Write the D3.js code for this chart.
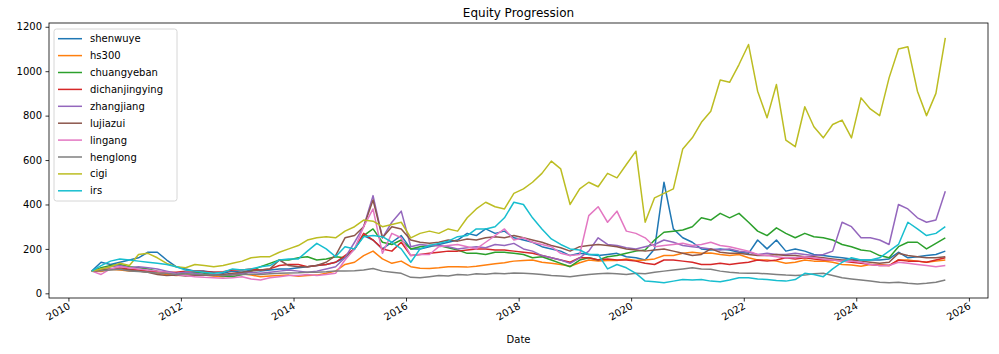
<!DOCTYPE html>
<html>
<head>
<meta charset="utf-8">
<script src="https://cdn.jsdelivr.net/npm/d3@7"></script>
<style>
  body { margin: 0; background: #fff; }
  text { font-family: "DejaVu Sans", sans-serif; }
</style>
</head>
<body>
<div id="viz"></div>
<script>

const seriesNames = ['shenwuye', 'hs300', 'chuangyeban', 'dichanjingying', 'zhangjiang',
                     'lujiazui', 'lingang', 'henglong', 'cigi', 'irs'];

const startMonth = new Date(2010, 5, 1);
const endMonth = new Date(2025, 8, 1);   // exclusive

const shenwuye = [100,140,130,140,150,160,185,185,150,120,
                  110,100,100,95,90,100,95,105,100,105,
                  110,110,115,120,125,130,140,160,200,260,
                  240,200,230,260,200,200,210,220,230,240,
                  270,260,290,270,280,250,240,230,210,200,
                  190,170,180,175,170,175,180,165,160,150,
                  200,500,290,250,230,200,195,200,195,185,
                  180,240,200,240,190,200,190,175,170,165,
                  160,155,150,150,150,155,185,160,165,170,
                  175,190];

const hs300 = [100,98,108,105,100,100,97,92,85,80,
               82,85,83,78,75,85,88,82,75,78,
               80,82,77,80,82,90,100,130,140,170,
               190,155,135,145,120,113,112,115,120,120,
               118,122,128,133,138,145,148,150,140,135,
               130,122,138,150,145,148,148,155,148,150,
               155,170,170,180,185,180,182,175,170,175,
               160,150,150,145,135,140,150,145,145,140,
               130,128,122,130,130,125,150,150,145,140,
               145,150];

const chuangyeban = [100,115,125,130,120,115,110,100,95,85,
                     90,95,90,85,78,75,85,100,120,135,
                     150,150,160,165,150,155,165,160,200,260,
                     290,230,220,240,200,210,215,215,205,195,
                     180,180,175,185,185,180,175,160,165,150,
                     135,120,150,160,150,165,170,180,190,195,
                     240,275,280,285,300,340,330,360,340,360,
                     320,280,260,295,270,250,270,255,250,240,
                     220,210,195,190,170,160,210,230,230,200,
                     225,250];

const dichanjingying = [100,105,110,115,108,105,100,98,95,95,
                        100,100,98,95,97,105,105,110,105,110,
                        125,130,130,120,125,130,140,170,200,270,
                        240,200,190,230,170,175,180,185,190,190,
                        195,200,200,195,195,190,185,180,170,160,
                        150,140,160,160,150,155,150,150,145,135,
                        130,150,150,145,140,130,130,135,130,135,
                        140,150,145,150,160,155,160,155,150,150,
                        145,140,135,130,125,125,150,145,145,140,
                        150,160];

const zhangjiang = [100,110,120,125,115,120,115,110,100,90,
                    95,90,85,85,80,85,90,95,90,95,
                    100,105,100,95,100,110,120,160,230,300,
                    440,250,320,370,210,220,215,215,210,200,
                    205,210,205,220,215,225,200,190,170,160,
                    150,135,160,190,250,220,215,205,200,210,
                    220,240,230,215,210,205,200,195,200,190,
                    185,175,180,175,175,180,175,170,175,190,
                    320,300,250,250,240,220,400,380,340,320,
                    330,460];

const lujiazui = [100,105,108,110,105,100,95,85,80,82,
                  78,80,82,80,85,90,95,100,105,110,
                  150,125,120,120,125,140,170,250,260,300,
                  420,250,300,290,240,230,225,230,240,235,
                  245,240,250,255,250,260,250,240,230,215,
                  205,190,210,215,220,215,210,200,195,190,
                  195,200,190,180,170,175,200,185,180,180,
                  175,170,170,175,170,170,165,165,160,155,
                  150,150,145,140,135,140,180,170,165,160,
                  160,165];

const lingang = [100,85,110,120,115,110,105,100,95,85,
                 80,75,72,70,68,70,75,65,60,70,
                 75,80,80,85,80,85,90,150,200,300,
                 380,180,270,250,170,175,175,210,215,220,
                 210,200,230,260,290,240,250,230,220,210,
                 180,170,175,350,390,320,370,280,270,250,
                 210,215,220,225,215,220,230,215,210,200,
                 190,175,170,165,160,160,165,160,155,150,
                 145,145,140,130,125,125,140,135,130,125,
                 120,125];

const henglong = [100,102,105,108,100,98,95,92,90,85,
                  88,85,84,82,80,82,85,86,85,88,
                  90,92,93,95,95,97,100,100,102,105,
                  112,100,95,90,72,70,75,80,78,85,
                  82,88,86,90,88,92,90,88,85,80,
                  78,75,80,85,88,90,88,85,90,88,
                  95,100,105,110,115,110,108,100,95,92,
                  90,90,88,85,82,80,82,88,90,80,
                  70,65,60,55,50,48,50,45,42,45,
                  50,60];

const cigi = [100,110,120,135,125,175,180,160,135,120,
              115,130,125,120,125,135,145,160,165,165,
              185,200,215,240,250,255,250,280,300,330,
              325,300,310,320,250,270,280,270,290,280,
              340,380,410,390,380,450,470,500,540,595,
              560,400,470,500,480,540,520,580,640,320,
              430,450,470,650,700,770,820,960,950,1030,
              1120,910,790,940,690,660,840,750,700,760,
              780,700,880,830,800,970,1100,1110,910,800,
              900,1150];

const irs = [100,125,145,155,150,145,140,135,130,120,
             105,100,95,90,95,110,105,110,120,125,
             150,155,155,190,225,200,165,210,200,255,
             260,255,230,200,140,200,215,225,235,255,
             260,290,290,300,340,410,400,340,290,245,
             220,200,195,175,175,110,130,115,90,55,
             52,48,55,62,60,62,55,52,60,70,
             70,65,62,58,55,62,90,85,75,110,
             140,160,150,150,160,190,220,320,290,260,
             270,300];

const yTicks = [0, 200, 400, 600, 800, 1000, 1200];
const xTickYears = [2010, 2012, 2014, 2016, 2018, 2020, 2022, 2024, 2026];

const colors = ['#1f77b4', '#ff7f0e', '#2ca02c', '#d62728', '#9467bd',
                '#8c564b', '#e377c2', '#7f7f7f', '#bcbd22', '#17becf'];

const allSeries = [shenwuye, hs300, chuangyeban, dichanjingying, zhangjiang,
                   lujiazui, lingang, henglong, cigi, irs];

// every other month starting from the first one
const dates = d3.timeMonth.range(startMonth, endMonth, 2);

const dimensions = {
    width: 999,
    height: 354,
    margins: { left: 49, right: 11, top: 23, bottom: 56 }
};
dimensions.boundedWidth = dimensions.width - dimensions.margins.left - dimensions.margins.right;
dimensions.boundedHeight = dimensions.height - dimensions.margins.top - dimensions.margins.bottom;

const svg = d3.select('#viz').append('svg')
    .attr('width', dimensions.width)
    .attr('height', dimensions.height);

const bounds = svg.append('g')
    .attr('transform', `translate(${dimensions.margins.left},${dimensions.margins.top})`);

// matplotlib style 5% padding on the time axis
const t0 = dates[0].getTime(), t1 = dates[dates.length - 1].getTime();
const pad = (t1 - t0) * 0.05;

const xScale = d3.scaleTime()
    .domain([new Date(t0 - pad), new Date(t1 + pad)])
    .range([0, dimensions.boundedWidth]);

const yScale = d3.scaleLinear()
    .domain([-21, 1217])
    .range([dimensions.boundedHeight, 0]);

const line = d3.line()
    .x((d, i) => xScale(dates[i]))
    .y(d => yScale(d));

allSeries.forEach((s, k) => {
    bounds.append('path')
        .datum(s)
        .attr('d', line)
        .attr('fill', 'none')
        .attr('stroke', colors[k])
        .attr('stroke-width', 1.5)
        .attr('stroke-linejoin', 'round');
});

// frame
bounds.append('rect')
    .attr('width', dimensions.boundedWidth)
    .attr('height', dimensions.boundedHeight)
    .attr('fill', 'none')
    .attr('stroke', '#000')
    .attr('stroke-width', 0.8);

const yAxis = bounds.append('g')
    .call(d3.axisLeft(yScale).tickValues(yTicks).tickFormat(d3.format('d'))
        .tickSize(3.5).tickPadding(3.5));
yAxis.select('.domain').remove();
yAxis.selectAll('text').attr('font-size', 10).attr('fill', '#000')
    .style('font-family', '"DejaVu Sans", sans-serif');
yAxis.selectAll('line').attr('stroke', '#000').attr('stroke-width', 0.8);

const xAxis = bounds.append('g')
    .attr('transform', `translate(0,${dimensions.boundedHeight})`)
    .call(d3.axisBottom(xScale)
        .tickValues(xTickYears.map(y => new Date(y, 0, 1)))
        .tickFormat(d3.timeFormat('%Y'))
        .tickSize(3.5));
xAxis.select('.domain').remove();
xAxis.selectAll('line').attr('stroke', '#000').attr('stroke-width', 0.8);
xAxis.selectAll('text')
    .attr('font-size', 10)
    .attr('fill', '#000')
    .style('font-family', '"DejaVu Sans", sans-serif')
    .attr('text-anchor', 'end')
    .attr('y', 0).attr('dy', 0)
    .attr('transform', 'translate(2,10) rotate(-30)');

svg.append('text')
    .attr('x', dimensions.margins.left + dimensions.boundedWidth / 2)
    .attr('y', 17)
    .attr('text-anchor', 'middle')
    .attr('font-size', 12)
    .text('Equity Progression');

svg.append('text')
    .attr('x', dimensions.margins.left + dimensions.boundedWidth / 2)
    .attr('y', 343)
    .attr('text-anchor', 'middle')
    .attr('font-size', 10)
    .text('Date');

// legend
const legend = svg.append('g').attr('transform', 'translate(54,29)');
legend.append('rect')
    .attr('width', 123).attr('height', 172)
    .attr('rx', 2.5)
    .attr('fill', 'rgba(255,255,255,0.8)')
    .attr('stroke', '#cccccc')
    .attr('stroke-width', 0.8);

seriesNames.forEach((name, k) => {
    const yy = 9.7 + k * 16.9;
    legend.append('line')
        .attr('x1', 4).attr('x2', 28)
        .attr('y1', yy).attr('y2', yy)
        .attr('stroke', colors[k])
        .attr('stroke-width', 1.5);
    legend.append('text')
        .attr('x', 36).attr('y', yy)
        .attr('dy', '0.35em')
        .attr('font-size', 10)
        .text(name);
});
</script>
</body>
</html>
